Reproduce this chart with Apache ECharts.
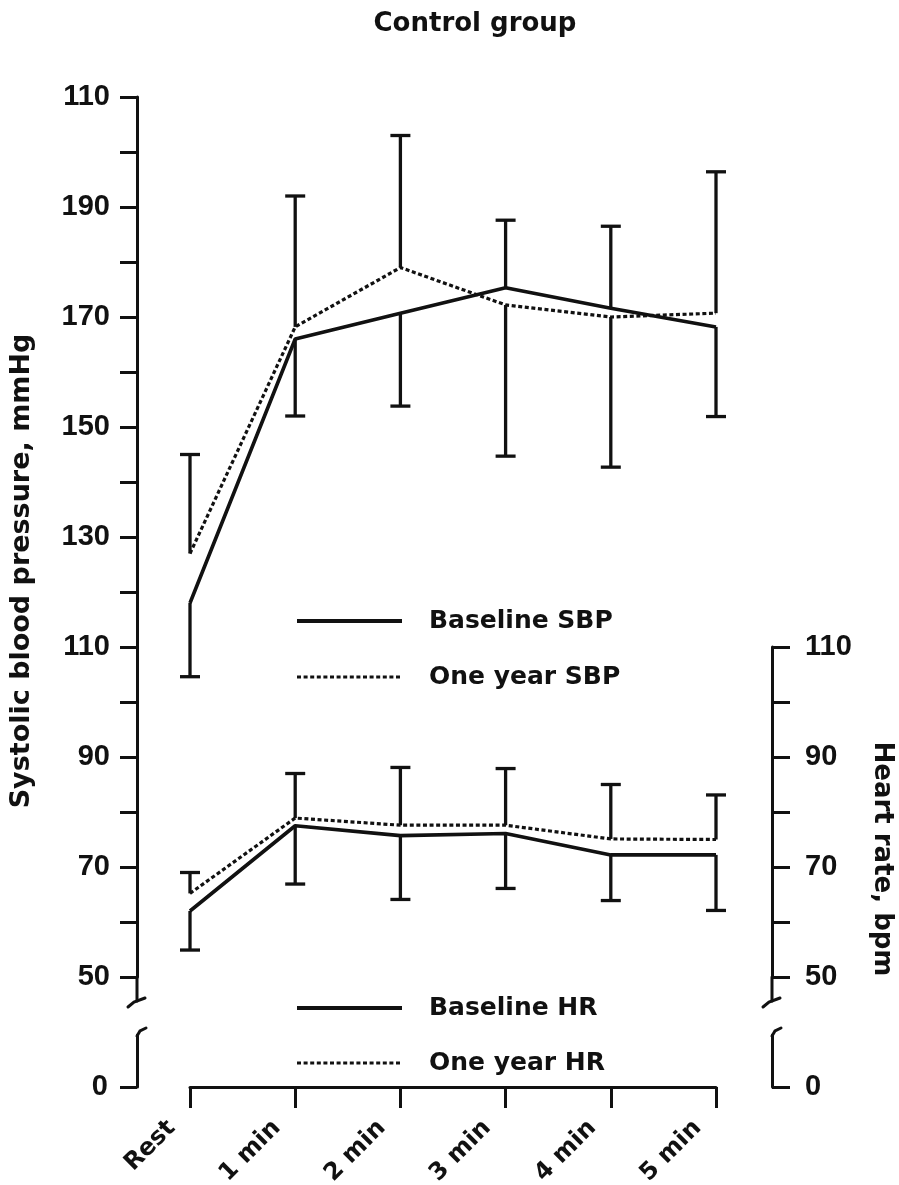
<!DOCTYPE html>
<html>
<head>
<meta charset="utf-8">
<script src="https://cdn.jsdelivr.net/npm/echarts@6/dist/echarts.min.js"></script>
<style>
  html, body { margin: 0; padding: 0; background: #ffffff; }
  #chart { width: 899px; height: 1185px; }
</style>
</head>
<body>
<div id="chart"></div>
<script>
// Time points of the exercise test
const categories = ['Rest', '1 min', '2 min', '3 min', '4 min', '5 min'];

// Systolic blood pressure (mmHg)
const baselineSBP = [118, 166, 170.7, 175.3, 171.6, 168.2];
const oneYearSBP  = [127, 168.2, 179, 172.2, 170, 170.7];
const sbpBarHigh  = [145, 192, 203, 187.6, 186.5, 196.4];
const sbpBarLow   = [104.6, 152, 153.8, 144.7, 142.7, 151.9];

// Heart rate (bpm)
const baselineHR = [62, 77.5, 75.7, 76.1, 72.2, 72.2];
const oneYearHR  = [65.2, 78.9, 77.6, 77.6, 75.1, 75];
const hrBarHigh  = [69, 87, 88.1, 87.9, 85, 83.1];
const hrBarLow   = [54.9, 66.9, 64.1, 66.1, 63.9, 62.1];

// Tick labels as printed on the axes
const sbpTickValues = [50, 70, 90, 110, 130, 150, 170, 190, 210];
const sbpTickLabels = ['50', '70', '90', '110', '130', '150', '170', '190', '110'];
const hrTickValues  = [50, 70, 90, 110];
const hrTickLabels  = ['50', '70', '90', '110'];

const INK = '#111111';
const NUM_FONT = 'Liberation Sans';
const TXT_FONT = 'DejaVu Sans';
const LEFT_OFFSET = 53;
const RIGHT_OFFSET = 56;
const DOTS = [4, 2.6];

const chart = echarts.init(document.getElementById('chart'), null, { renderer: 'canvas' });

function labelFor(values, labels) {
  return v => {
    const i = values.indexOf(Math.round(v));
    return i >= 0 ? labels[i] : '';
  };
}

function hiddenX(gridIndex) {
  return {
    type: 'category', gridIndex, data: categories, boundaryGap: false,
    axisLine: { show: false }, axisTick: { show: false }, axisLabel: { show: false },
    splitLine: { show: false }
  };
}

const numLabel = { color: INK, fontFamily: NUM_FONT, fontWeight: 'bold', fontSize: 29 };

// Vertical SD whiskers: the upper one rises from the higher mean,
// the lower one falls from the lower mean.
function errorBars(name, axisIndex, meanA, meanB, high, low) {
  return {
    type: 'custom', name, xAxisIndex: axisIndex, yAxisIndex: axisIndex, z: 3, silent: true,
    data: categories.map((c, i) => [i, Math.max(meanA[i], meanB[i]), high[i], Math.min(meanA[i], meanB[i]), low[i]]),
    encode: { x: 0, y: [1, 2, 3, 4] },
    renderItem(params, api) {
      const i = api.value(0);
      const top = api.coord([i, api.value(1)]);
      const hi = api.coord([i, api.value(2)]);
      const bot = api.coord([i, api.value(3)]);
      const lo = api.coord([i, api.value(4)]);
      const cap = 10;
      const st = { stroke: INK, lineWidth: 3.3 };
      return {
        type: 'group',
        children: [
          { type: 'line', shape: { x1: top[0], y1: top[1], x2: hi[0], y2: hi[1] }, style: st },
          { type: 'line', shape: { x1: hi[0] - cap, y1: hi[1], x2: hi[0] + cap, y2: hi[1] }, style: st },
          { type: 'line', shape: { x1: bot[0], y1: bot[1], x2: lo[0], y2: lo[1] }, style: st },
          { type: 'line', shape: { x1: lo[0] - cap, y1: lo[1], x2: lo[0] + cap, y2: lo[1] }, style: st }
        ]
      };
    }
  };
}

function lineSeries(name, axisIndex, data, dotted) {
  return {
    type: 'line', name, xAxisIndex: axisIndex, yAxisIndex: axisIndex, data,
    symbol: 'none', z: 4, silent: true,
    lineStyle: { color: INK, width: dotted ? 3.2 : 3.6, type: dotted ? DOTS : 'solid' },
    itemStyle: { color: INK }
  };
}

function legendItem(name, dotted) {
  return {
    name,
    itemStyle: { opacity: 0 },
    lineStyle: { color: INK, width: dotted ? 3 : 4, type: dotted ? DOTS : 'solid', opacity: 1 }
  };
}

const legendText = { color: INK, fontFamily: TXT_FONT, fontWeight: 'bold', fontSize: 25, lineHeight: 28, padding: [0, 0, 0, 22] };
const legendCommon = {
  orient: 'vertical', left: 295, itemWidth: 105, itemHeight: 14, padding: 0, selectedMode: false,
  itemStyle: { opacity: 0 },
  textStyle: legendText
};

const gridCommon = { left: 190, right: 183, outerBoundsMode: 'none', containLabel: false };

const option = {
  backgroundColor: '#ffffff',
  animation: false,
  title: {
    text: 'Control group', left: 470, top: 6, textAlign: 'center',
    textStyle: { color: INK, fontFamily: TXT_FONT, fontWeight: 'bold', fontSize: 26 }
  },
  legend: [
    Object.assign({ data: [legendItem('Baseline SBP', false), legendItem('One year SBP', true)], top: 607, itemGap: 28 }, legendCommon),
    Object.assign({ data: [legendItem('Baseline HR', false), legendItem('One year HR', true)], top: 994, itemGap: 27 }, legendCommon)
  ],
  grid: [
    Object.assign({ top: 97, height: 880 }, gridCommon),   // SBP, 50–210
    Object.assign({ top: 647, height: 330 }, gridCommon),  // HR, 50–110
    Object.assign({ top: 1035, height: 52 }, gridCommon)   // zero segment and time axis
  ],
  xAxis: [
    hiddenX(0),
    hiddenX(1),
    {
      type: 'category', gridIndex: 2, data: categories, boundaryGap: false,
      axisLine: { show: true, lineStyle: { color: INK, width: 3 } },
      axisTick: { show: true, inside: false, length: 21, lineStyle: { color: INK, width: 3 } },
      axisLabel: {
        show: true, rotate: 45, margin: 19, interval: 0, padding: [0, 26, 0, 0],
        color: INK, fontFamily: TXT_FONT, fontWeight: 'bold', fontSize: 24
      },
      splitLine: { show: false }
    }
  ],
  yAxis: [
    {
      type: 'value', gridIndex: 0, position: 'left', offset: LEFT_OFFSET,
      min: 50, max: 210, interval: 10,
      axisLine: { show: true, lineStyle: { color: INK, width: 3 } },
      axisTick: { show: true, inside: false, length: 17, lineStyle: { color: INK, width: 3 } },
      axisLabel: Object.assign({ margin: 27, formatter: labelFor(sbpTickValues, sbpTickLabels) }, numLabel),
      splitLine: { show: false }
    },
    {
      type: 'value', gridIndex: 1, position: 'right', offset: RIGHT_OFFSET,
      min: 50, max: 110, interval: 10,
      axisLine: { show: true, lineStyle: { color: INK, width: 3 } },
      axisTick: { show: true, inside: false, length: 18, lineStyle: { color: INK, width: 3 } },
      axisLabel: Object.assign({ margin: 33, formatter: labelFor(hrTickValues, hrTickLabels) }, numLabel),
      splitLine: { show: false }
    },
    {
      type: 'value', gridIndex: 2, position: 'left', offset: LEFT_OFFSET,
      min: 0, max: 10, interval: 10,
      axisLine: { show: true, lineStyle: { color: INK, width: 3 } },
      axisTick: { show: true, inside: false, length: 17, customValues: [0], lineStyle: { color: INK, width: 3 } },
      axisLabel: Object.assign({ margin: 29, customValues: [0] }, numLabel),
      splitLine: { show: false }
    },
    {
      type: 'value', gridIndex: 2, position: 'right', offset: RIGHT_OFFSET,
      min: 0, max: 10, interval: 10,
      axisLine: { show: true, lineStyle: { color: INK, width: 3 } },
      axisTick: { show: true, inside: false, length: 18, customValues: [0], lineStyle: { color: INK, width: 3 } },
      axisLabel: Object.assign({ margin: 33, customValues: [0] }, numLabel),
      splitLine: { show: false }
    }
  ],
  series: [
    errorBars('SBP SD', 0, baselineSBP, oneYearSBP, sbpBarHigh, sbpBarLow),
    lineSeries('Baseline SBP', 0, baselineSBP, false),
    lineSeries('One year SBP', 0, oneYearSBP, true),
    errorBars('HR SD', 1, baselineHR, oneYearHR, hrBarHigh, hrBarLow),
    lineSeries('Baseline HR', 1, baselineHR, false),
    lineSeries('One year HR', 1, oneYearHR, true)
  ]
};

chart.setOption(option);

// Axis names and break marks, placed from the axes' own pixel positions
const firstX = chart.convertToPixel({ xAxisIndex: 0 }, 0);
const lastX = chart.convertToPixel({ xAxisIndex: 0 }, categories.length - 1);
const axL = firstX - LEFT_OFFSET;
const axR = lastX + RIGHT_OFFSET;
const y50 = chart.convertToPixel({ yAxisIndex: 0 }, 50);
const yZeroTop = chart.convertToPixel({ yAxisIndex: 2 }, 10);
const brk = { stroke: INK, lineWidth: 3, fill: null, lineCap: 'round' };

function breakMarks(ax) {
  const yEnd = y50 + 24;
  return [
    { type: 'polyline', shape: { points: [[ax, y50], [ax, yEnd]] }, style: brk },
    { type: 'polyline', shape: { points: [[ax - 9, yEnd + 6], [ax - 3, yEnd + 1], [ax + 8, yEnd - 3]] }, style: brk },
    { type: 'polyline', shape: { points: [[ax, yZeroTop + 1], [ax + 3, yZeroTop - 4], [ax + 9, yZeroTop - 7]] }, style: brk }
  ];
}

chart.setOption({
  graphic: [
    {
      type: 'text', x: 22, y: 571, rotation: Math.PI / 2,
      style: {
        text: 'Systolic blood pressure, mmHg', fill: INK, align: 'center', verticalAlign: 'middle',
        font: 'bold 27px "DejaVu Sans"'
      }
    },
    {
      type: 'text', x: 882, y: 859, rotation: -Math.PI / 2,
      style: {
        text: 'Heart rate, bpm', fill: INK, align: 'center', verticalAlign: 'middle',
        font: 'bold 26px "DejaVu Sans"'
      }
    }
  ].concat(breakMarks(axL), breakMarks(axR))
});
</script>
</body>
</html>
